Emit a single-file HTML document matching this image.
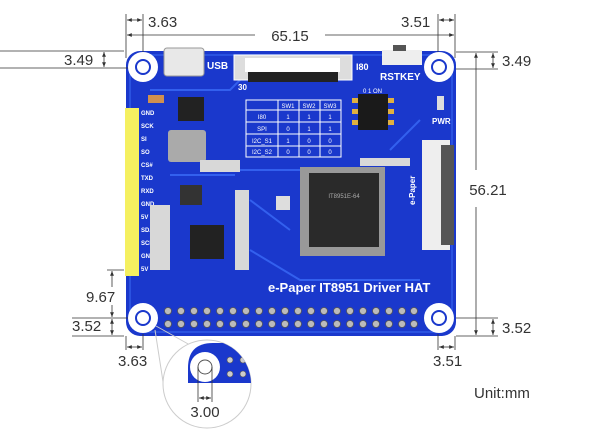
<!DOCTYPE html>
<html><head><meta charset="utf-8"><style>
html,body{margin:0;padding:0;background:#fff;width:600px;height:437px;overflow:hidden}
svg{display:block}
text{font-family:"Liberation Sans",sans-serif}
</style></head><body>
<svg width="600" height="437" viewBox="0 0 600 437" xmlns="http://www.w3.org/2000/svg">
<defs>
<marker id="a" viewBox="0 0 10 10" refX="10" refY="5" markerWidth="6" markerHeight="6" orient="auto-start-reverse"><path d="M0,1 L10,5 L0,9 z" fill="#333"/></marker>
<clipPath id="cz"><circle cx="207" cy="384" r="44"/></clipPath>
</defs>
<!-- board -->
<rect x="126" y="51" width="330" height="285" rx="14" fill="#1a38cc"/>
<rect x="130" y="55" width="322" height="277" rx="12" fill="none" stroke="#2a52e0" stroke-width="2"/>
<path d="M150,90 L230,90 L260,60 M230,170 L300,170 M390,150 L420,120 M250,250 L300,280 L420,280 M170,175 L235,175 M250,200 L290,230" stroke="#3360ee" stroke-width="2" fill="none"/>
<!-- holes -->
<g fill="#fff"><circle cx="143" cy="67" r="15"/><circle cx="439" cy="67" r="15"/><circle cx="143" cy="318" r="15"/><circle cx="439" cy="318" r="15"/></g>
<g fill="#fff" stroke="#1a38cc" stroke-width="2"><circle cx="143" cy="67" r="7"/><circle cx="439" cy="67" r="7"/><circle cx="143" cy="318" r="7"/><circle cx="439" cy="318" r="7"/></g>
<!-- usb -->
<rect x="164" y="48" width="40" height="28" rx="3" fill="#e8e8e8" stroke="#999"/>
<text x="207" y="69" font-size="10" font-weight="bold" fill="#fff">USB</text>
<!-- top connector -->
<rect x="234" y="55" width="118" height="25" fill="#ddd" stroke="#fff"/>
<rect x="245" y="58" width="95" height="14" fill="#fff"/>
<rect x="248" y="72" width="90" height="10" fill="#222"/>
<text x="238" y="90" font-size="8" font-weight="bold" fill="#fff">30</text>
<text x="356" y="70" font-size="9" font-weight="bold" fill="#fff">I80</text>
<!-- rst key -->
<rect x="382" y="50" width="40" height="15" fill="#eee"/>
<rect x="393" y="45" width="13" height="6" fill="#555"/>
<text x="380" y="80" font-size="10" font-weight="bold" fill="#fff">RSTKEY</text>
<!-- dip -->
<text x="363" y="93" font-size="6" fill="#fff">0     1 ON</text>
<rect x="358" y="94" width="30" height="36" fill="#1a1a1a"/>
<g fill="#e0b040"><rect x="352" y="98" width="6" height="5"/><rect x="352" y="109" width="6" height="5"/><rect x="352" y="120" width="6" height="5"/><rect x="388" y="98" width="6" height="5"/><rect x="388" y="109" width="6" height="5"/><rect x="388" y="120" width="6" height="5"/></g>
<rect x="437" y="96" width="7" height="14" fill="#ddd"/>
<text x="432" y="124" font-size="8" font-weight="bold" fill="#fff">PWR</text>
<!-- table -->
<g stroke="#fff" stroke-width="1" fill="none">
<rect x="246" y="100" width="95" height="57"/>
<line x1="246" y1="110" x2="341" y2="110"/><line x1="246" y1="122" x2="341" y2="122"/><line x1="246" y1="134" x2="341" y2="134"/><line x1="246" y1="146" x2="341" y2="146"/>
<line x1="278" y1="100" x2="278" y2="157"/><line x1="299" y1="100" x2="299" y2="157"/><line x1="320" y1="100" x2="320" y2="157"/>
</g>
<g font-size="6" fill="#fff" text-anchor="middle">
<text x="288" y="108">SW1</text><text x="309" y="108">SW2</text><text x="330" y="108">SW3</text>
<text x="262" y="119">I80</text><text x="288" y="119">1</text><text x="309" y="119">1</text><text x="330" y="119">1</text>
<text x="262" y="131">SPI</text><text x="288" y="131">0</text><text x="309" y="131">1</text><text x="330" y="131">1</text>
<text x="262" y="143">I2C_S1</text><text x="288" y="143">1</text><text x="309" y="143">0</text><text x="330" y="143">0</text>
<text x="262" y="154">I2C_S2</text><text x="288" y="154">0</text><text x="309" y="154">0</text><text x="330" y="154">0</text>
</g>
<!-- left header -->
<rect x="125" y="108" width="14" height="168" fill="#f5f060"/>
<g font-size="6" fill="#fff" font-weight="bold">
<text x="141" y="115">GND</text><text x="141" y="128">SCK</text><text x="141" y="141">SI</text><text x="141" y="154">SO</text><text x="141" y="167">CS#</text><text x="141" y="180">TXD</text><text x="141" y="193">RXD</text><text x="141" y="206">GND</text><text x="141" y="219">5V</text><text x="141" y="232">SDA</text><text x="141" y="245">SCL</text><text x="141" y="258">GND</text><text x="141" y="271">5V</text>
</g>
<!-- chips -->
<rect x="178" y="97" width="26" height="24" fill="#222"/>
<rect x="168" y="130" width="38" height="32" rx="3" fill="#aaa"/>
<rect x="180" y="185" width="22" height="20" fill="#333"/>
<rect x="190" y="225" width="34" height="34" fill="#222"/>
<rect x="148" y="95" width="16" height="8" fill="#d09050"/>
<rect x="300" y="167" width="85" height="89" fill="#999"/>
<rect x="309" y="173" width="70" height="74" fill="#2a2a2a"/>
<text x="344" y="198" font-size="6" fill="#aaa" text-anchor="middle">IT8951E-64</text>
<rect x="276" y="196" width="14" height="14" fill="#ddd"/>
<!-- right fpc -->
<rect x="422" y="140" width="28" height="110" fill="#eee"/>
<rect x="441" y="145" width="13" height="100" fill="#555"/>
<text x="415" y="205" font-size="8" font-weight="bold" fill="#fff" transform="rotate(-90 415 205)">e-Paper</text>
<!-- small parts -->
<g fill="#d8d8d8"><rect x="235" y="190" width="14" height="80"/><rect x="150" y="205" width="20" height="65"/><rect x="360" y="158" width="50" height="8"/><rect x="200" y="160" width="40" height="12"/></g>
<text x="268" y="292" font-size="13" font-weight="bold" fill="#fff">e-Paper IT8951 Driver HAT</text>
<!-- pins -->
<g fill="#bbb" stroke="#555" stroke-width="0.8">
<circle cx="168" cy="311" r="3.5"/><circle cx="181" cy="311" r="3.5"/><circle cx="194" cy="311" r="3.5"/><circle cx="207" cy="311" r="3.5"/><circle cx="220" cy="311" r="3.5"/><circle cx="233" cy="311" r="3.5"/><circle cx="246" cy="311" r="3.5"/><circle cx="259" cy="311" r="3.5"/><circle cx="272" cy="311" r="3.5"/><circle cx="285" cy="311" r="3.5"/><circle cx="298" cy="311" r="3.5"/><circle cx="311" cy="311" r="3.5"/><circle cx="324" cy="311" r="3.5"/><circle cx="337" cy="311" r="3.5"/><circle cx="350" cy="311" r="3.5"/><circle cx="363" cy="311" r="3.5"/><circle cx="376" cy="311" r="3.5"/><circle cx="389" cy="311" r="3.5"/><circle cx="402" cy="311" r="3.5"/><circle cx="414" cy="311" r="3.5"/>
<circle cx="168" cy="324" r="3.5"/><circle cx="181" cy="324" r="3.5"/><circle cx="194" cy="324" r="3.5"/><circle cx="207" cy="324" r="3.5"/><circle cx="220" cy="324" r="3.5"/><circle cx="233" cy="324" r="3.5"/><circle cx="246" cy="324" r="3.5"/><circle cx="259" cy="324" r="3.5"/><circle cx="272" cy="324" r="3.5"/><circle cx="285" cy="324" r="3.5"/><circle cx="298" cy="324" r="3.5"/><circle cx="311" cy="324" r="3.5"/><circle cx="324" cy="324" r="3.5"/><circle cx="337" cy="324" r="3.5"/><circle cx="350" cy="324" r="3.5"/><circle cx="363" cy="324" r="3.5"/><circle cx="376" cy="324" r="3.5"/><circle cx="389" cy="324" r="3.5"/><circle cx="402" cy="324" r="3.5"/><circle cx="414" cy="324" r="3.5"/>
</g>
<!-- zoom callout -->
<path d="M156,326 L190,345 M155,330 L164,388" stroke="#ccc" stroke-width="1" fill="none"/>
<circle cx="207" cy="384" r="44" fill="#fff" stroke="#ccc"/>
<g clip-path="url(#cz)">
<path d="M188,383 L188,368 Q188,343 213,343 L260,343 L260,383 Z" fill="#1a38cc"/>
<circle cx="205" cy="367" r="15" fill="#fff"/><circle cx="205" cy="367" r="7" fill="#fff" stroke="#555" stroke-width="1"/>
<g fill="#ccc" stroke="#555" stroke-width="0.6"><circle cx="230" cy="360" r="3"/><circle cx="230" cy="374" r="3"/><circle cx="243" cy="360" r="3"/><circle cx="243" cy="374" r="3"/></g>
</g>
<g stroke="#333" stroke-width="0.8" fill="none">
<line x1="198" y1="367" x2="198" y2="402"/><line x1="212" y1="367" x2="212" y2="402"/>
<line x1="199" y1="398" x2="211" y2="398" marker-start="url(#a)" marker-end="url(#a)"/>
</g>
<text x="205" y="417" font-size="15" fill="#333" text-anchor="middle">3.00</text>
<!-- dimensions -->
<g stroke="#333" stroke-width="0.8" fill="none">
<line x1="126" y1="14" x2="126" y2="58"/><line x1="143" y1="14" x2="143" y2="52"/>
<line x1="127" y1="20" x2="142" y2="20" marker-start="url(#a)" marker-end="url(#a)"/>
<line x1="438" y1="14" x2="438" y2="52"/><line x1="455" y1="14" x2="455" y2="58"/>
<line x1="439" y1="20" x2="454" y2="20" marker-start="url(#a)" marker-end="url(#a)"/>
<line x1="127" y1="35" x2="255" y2="35" marker-start="url(#a)"/><line x1="325" y1="35" x2="454" y2="35" marker-end="url(#a)"/>
<line x1="0" y1="51" x2="124" y2="51"/><line x1="0" y1="68" x2="128" y2="68"/>
<line x1="104" y1="52" x2="104" y2="67" marker-start="url(#a)" marker-end="url(#a)"/>
<line x1="456" y1="52" x2="498" y2="52"/><line x1="456" y1="69" x2="498" y2="69"/>
<line x1="493" y1="53" x2="493" y2="68" marker-start="url(#a)" marker-end="url(#a)"/>
<line x1="476" y1="53" x2="476" y2="170" marker-start="url(#a)"/><line x1="476" y1="207" x2="476" y2="335" marker-end="url(#a)"/>
<line x1="456" y1="336" x2="498" y2="336"/><line x1="456" y1="318" x2="498" y2="318"/>
<line x1="493" y1="319" x2="493" y2="335" marker-start="url(#a)" marker-end="url(#a)"/>
<line x1="107" y1="270" x2="124" y2="270"/><line x1="72" y1="318" x2="128" y2="318"/><line x1="72" y1="336" x2="124" y2="336"/>
<line x1="112" y1="271" x2="112" y2="287" marker-start="url(#a)"/>
<line x1="112" y1="305" x2="112" y2="317" marker-end="url(#a)"/>
<line x1="112" y1="319" x2="112" y2="335" marker-start="url(#a)" marker-end="url(#a)"/>
<line x1="126" y1="336" x2="126" y2="350"/><line x1="143" y1="334" x2="143" y2="350"/>
<line x1="127" y1="347" x2="142" y2="347" marker-start="url(#a)" marker-end="url(#a)"/>
<line x1="438" y1="334" x2="438" y2="350"/><line x1="455" y1="336" x2="455" y2="350"/>
<line x1="439" y1="347" x2="454" y2="347" marker-start="url(#a)" marker-end="url(#a)"/>
</g>
<g font-size="15" fill="#333">
<text x="148" y="27">3.63</text>
<text x="401" y="27">3.51</text>
<text x="290" y="41" text-anchor="middle">65.15</text>
<text x="64" y="65">3.49</text>
<text x="502" y="66">3.49</text>
<text x="488" y="195" text-anchor="middle">56.21</text>
<text x="86" y="302">9.67</text>
<text x="72" y="331">3.52</text>
<text x="502" y="333">3.52</text>
<text x="118" y="366">3.63</text>
<text x="433" y="366">3.51</text>
<text x="474" y="398">Unit:mm</text>
</g>
</svg>
</body></html>
